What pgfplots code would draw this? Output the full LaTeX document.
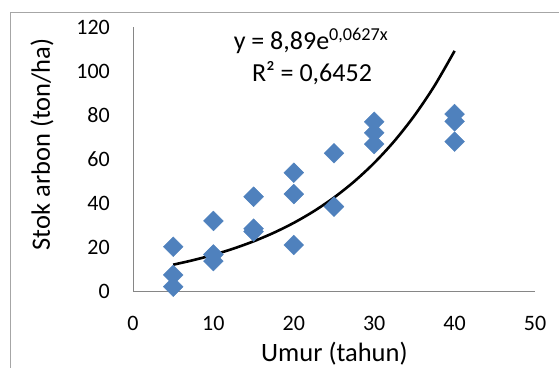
\documentclass[border=0pt]{standalone}
\usepackage{pgfplots}
\pgfplotsset{compat=1.18}
\usepackage{fontspec}
\setmainfont{Carlito}
\definecolor{mk}{HTML}{4F81BD}
\definecolor{axgray}{HTML}{868686}
\definecolor{framegray}{HTML}{A6A6A6}
\begin{document}
\begin{tikzpicture}
\useasboundingbox (0,0) rectangle (559pt,367pt);
\draw[color=framegray, line width=0.8pt] (10pt,-5pt) -- (10pt,355pt) -- (570pt,355pt);
\begin{axis}[
  at={(133pt,75.5pt)}, anchor=south west,
  scale only axis, width=402pt, height=264.5pt,
  xmin=0, xmax=50, ymin=0, ymax=120,
  axis x line=bottom, axis y line=left,
  axis line style={-, axgray, line width=0.9pt},
  xtick={0,10,20,30,40,50}, ytick={0,20,40,60,80,100,120},
  major tick length=0pt,
  /pgf/number format/assume math mode=true,
  tick label style={font=\fontsize{22}{26}\selectfont, inner sep=0pt},
  xticklabel style={anchor=base, yshift=-38.5pt},
  yticklabel style={anchor=east, xshift=-23pt},
  xlabel={Umur (tahun)}, ylabel={Stok arbon (ton/ha)},
  label style={font=\fontsize{26.5}{31}\selectfont, inner sep=0pt},
  xlabel style={at={(axis description cs:0.501,0)}, anchor=base, yshift=-69.5pt},
  ylabel style={at={(axis description cs:-0.2065,0.556)}, anchor=base},
  clip=false,
]
\addplot[only marks, mark=square*, mark size=7pt, color=mk,
  mark options={rotate=45, fill=mk, draw=mk}] coordinates {
  (5,20.3) (5,7.5) (5,2.2)
  (10,32) (10,16.8) (10,13.8)
  (15,43) (15,28.5) (15,27.2)
  (20,53.9) (20,44.2) (20,21.1)
  (25,62.7) (25,38.5)
  (30,77) (30,72) (30,66.9)
  (40,80.5) (40,77.2) (40,68)
};
\addplot[black, line width=2.6pt, smooth, no marks] coordinates {
  (5,12.16) (7.5,14.23) (10,16.64) (12.5,19.47) (15,22.77) (17.5,26.63)
  (20,31.15) (22.5,36.44) (25,42.62) (27.5,49.86) (30,58.32) (32.5,68.22)
  (35,79.79) (37.5,93.33) (40,109.17)
};
\node[anchor=base, font=\fontsize{26}{30}\selectfont, inner sep=0pt] at (axis cs:22.14,109.6) {y = 8,89e\textsuperscript{0,0627x}};
\node[anchor=base, font=\fontsize{26}{30}\selectfont, inner sep=0pt] at (axis cs:22.26,95.2) {R² = 0,6452};
\end{axis}
\end{tikzpicture}
\end{document}
